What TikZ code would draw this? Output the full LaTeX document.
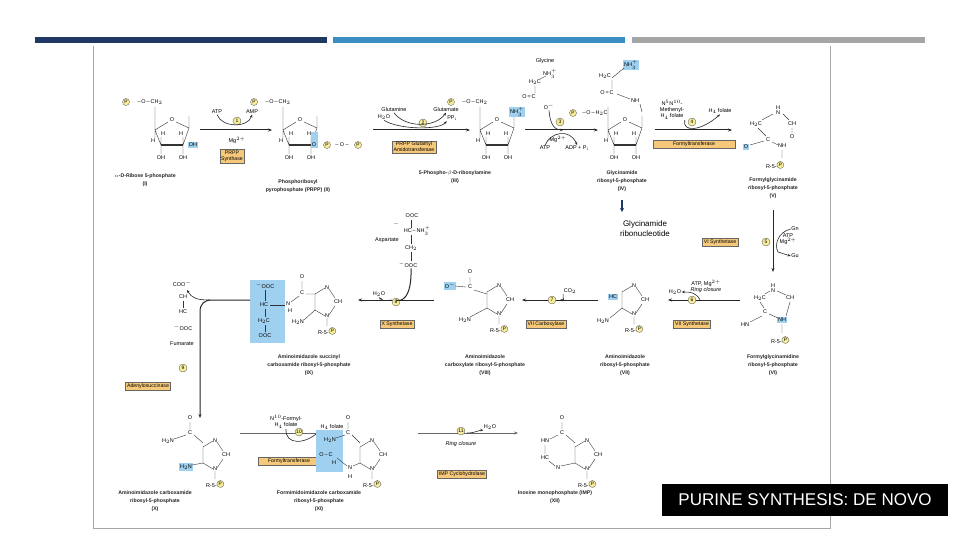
\documentclass[tikz,border=0pt]{standalone}
\usepackage{fontspec}
\setsansfont{Liberation Sans}
\usetikzlibrary{arrows.meta}
\definecolor{navy}{HTML}{1F3864}
\definecolor{steel}{HTML}{3B8DC4}
\definecolor{bargray}{HTML}{A6A6A6}
\definecolor{enzfill}{HTML}{F6C97A}
\definecolor{hl}{HTML}{9FD0F0}
\definecolor{pfill}{HTML}{F7EC9A}
\tikzset{
 t/.style={font=\sffamily\fontsize{5.5}{6}\selectfont,inner sep=0.5pt,align=center},
 lab/.style={font=\sffamily\bfseries\fontsize{5.2}{8}\selectfont,align=center,text=black!85},
 enz/.style={fill=enzfill,draw=black!60,line width=0.3pt,font=\sffamily\fontsize{5.2}{5.8}\selectfont,align=center,inner sep=1.5pt},
 stepc/.style={circle,fill=pfill,draw=black!70,line width=0.3pt,inner sep=0.5pt,minimum size=8pt,font=\sffamily\fontsize{5}{5}\selectfont},
 ph/.style={circle,fill=pfill,draw=black!70,line width=0.3pt,inner sep=0.3pt,minimum size=7pt,font=\sffamily\fontsize{4.8}{5}\selectfont},
 hlbox/.style={fill=hl,inner sep=1pt},
 rx/.style={-{Stealth[length=4pt,width=3pt]},line width=1pt,black!85},
 side/.style={-{Stealth[length=3pt,width=2.5pt]},line width=0.6pt,black!85},
 bond/.style={line width=0.4pt,black!80}
}
\newcommand\ribosering{%
 \node[t] at (0,0) {O};
 \draw[bond] (-4,2)--(-17,10) (4,2)--(17,8) (17,8)--(11,25) (-17,10)--(-11,25)
   (-11,25)--(-11,34) (11,25)--(11,34) (-17,10)--(-17,-13) (17,8)--(17,-4)
   (-11,25)--(-11,17) (11,25)--(11,17) (-17,10)--(-17,18);
 \draw[line width=1.2pt,black!80] (-11,25)--(11,25);
 \node[t] at (-11,38) {OH}; \node[t] at (11,38) {OH};
 \node[t] at (-9,14) {H}; \node[t] at (9,14) {H}; \node[t] at (-19,21) {H};
}
\newcommand\imid{%
 \draw[bond] (0,-8)--(0,8) (0,-8)--(10,-14) (0,8)--(10,14) (14,-13)--(20,-4) (14,13)--(20,4) (12,16)--(12,24);
 \node[t] at (12,-14) {N}; \node[t] at (23,0) {CH}; \node[t] at (12,14) {N};
 \node[t] at (12,29) {R-5-\tikz\node[ph]{P};};
}
\begin{document}
\begin{tikzpicture}[x=1pt,y=-1pt]
\useasboundingbox (0,0) rectangle (960,540);
\fill[white] (0,0) rectangle (960,540);
% top bars
\fill[navy] (35,37) rectangle (327,43);
\fill[steel] (333,37) rectangle (625,43);
\fill[bargray] (632,37) rectangle (925,43);
% frame
\draw[black!35,line width=1pt] (93,46) -- (93,528) -- (830,528) -- (830,46);
% ===== Row 1 =====
\begin{scope}[shift={(172,120)}]\ribosering\end{scope}
\node[ph] (p1) at (126,102) {P}; \node[t] at (150,102) {--\,O\,--\,CH$_2$};
\node[t,hlbox] at (193,145) {OH};
\node[lab] (cI) at (145,180) {$\alpha$-D-Ribose 5-phosphate\\(I)};

\begin{scope}[shift={(300,120)}]\ribosering\end{scope}
\node[ph] (p2) at (254,102) {P}; \node[t] at (278,102) {--\,O\,--\,CH$_2$};
\node[hlbox,minimum width=7pt,minimum height=16pt] at (314,140) {};
\node[t] at (314,145) {O};
\node[ph] (pa) at (327,145) {P}; \node[t] (pd) at (342,145) {-- O --};
\node[ph] (pb) at (358,145) {P};
\node[lab] (cII) at (298,186) {Phosphoribosyl\\pyrophosphate (PRPP) (II)};

\begin{scope}[shift={(497,120)}]\ribosering\end{scope}
\node[ph] (p3) at (451,102) {P}; \node[t] at (475,102) {--\,O\,--\,CH$_2$};
\node[t,hlbox] at (517,112) {NH$_3^+$};
\node[lab] (cIII) at (455,177) {5-Phospho-$\beta$-D-ribosylamine\\(III)};

\begin{scope}[shift={(625,120)}]\ribosering\end{scope}
\node[ph] (p4) at (573,113) {P}; \node[t] at (595,113) {--\,O\,--\,H$_2$C};
\node[t] at (605,76) {H$_2$C}; \node[t,hlbox] at (631,65) {NH$_3^+$};
\node[t] at (607,93) {O\,=\,C}; \node[t] at (635,101) {NH};
\draw[bond] (612,78)--(624,68) (612,80)--(612,89) (617,94)--(630,99) (640,104)--(642,112);
\node[lab] (cIV) at (622,181) {Glycinamide\\ribosyl-5-phosphate\\(IV)};

% V
\node[t] at (778,110) {H\\[-1pt]N}; \node[t] at (756,124) {H$_2$C}; \node[t] at (792,124) {CH};
\node[t] at (792,137) {O}; \node[t] at (768,140) {C}; \node[t,hlbox] at (746,147) {O};
\node[t] at (782,146) {NH}; \node[t] at (775,165) {R-5-\tikz\node[ph]{P};};
\draw[bond] (762,120)--(773,114) (783,114)--(789,120) (792,128)--(792,133) (758,128)--(766,136) (750,145)--(764,141) (772,142)--(778,145) (782,150)--(782,158);
\node[lab] (cV) at (773,188) {Formylglycinamide\\ribosyl-5-phosphate\\(V)};

% step 1
\coordinate (a1s) at (200,130); \coordinate (a1e) at (272,130);
\draw[rx] (a1s)--(a1e);
\node[stepc] (s1) at (237,121) {1};
\node[t] (atp1) at (217,112) {ATP}; \node[t] (amp1) at (252,112) {AMP};
\node[t] at (237,140) {Mg$^{2+}$};
\draw[side] (atp1.south) .. controls (222,128) and (248,128) .. (amp1.south);
\node[enz] (e1) at (232,156) {PRPP\\Synthase};
% step 2
\coordinate (a2s) at (373,130); \coordinate (a2e) at (470,130);
\draw[rx] (a2s)--(a2e);
\node[stepc] (s2) at (423,123) {2};
\node[t] (gln) at (394,110) {Glutamine}; \node[t] (h2o2) at (384,117) {H$_2$O};
\node[t] (glu) at (446,110) {Glutamate}; \node[t] (ppi) at (452,118) {PP$_\mathrm{i}$};
\draw[side] (gln.south) .. controls (405,128) and (435,128) .. (glu.south);
\draw[side] (h2o2.south) .. controls (400,130) and (440,130) .. (ppi.south west);
\node[enz] (e2) at (414,147) {PRPP Glutamyl\\Amidotransferase};
% step 3
\coordinate (a3s) at (525,130); \coordinate (a3e) at (598,130);
\draw[rx] (a3s)--(a3e);
\node[stepc] (s3) at (560,122) {3};
\node[t] at (545,61) {Glycine}; \node[t] at (550,74) {NH$_3^+$};
\node[t] (gly) at (535,82) {H$_2$C}; \node[t] at (529,97) {O\,=\,C}; \node[t] (om) at (549,107) {O$^-$};
\draw[bond] (540,79)--(546,76) (535,86)--(535,93);
\draw[side] (om.south) .. controls (550,125) and (555,130) .. (563,130);
\node[t] (atp3) at (545,148) {ATP}; \node[t] (adp3) at (577,148) {ADP + P$_\mathrm{i}$};
\node[t] at (558,139) {Mg$^{2+}$};
\draw[side] (atp3.north) .. controls (550,132) and (570,128) .. (adp3.north);
% step 4
\coordinate (a4s) at (655,130); \coordinate (a4e) at (732,130);
\draw[rx] (a4s)--(a4e);
\node[stepc] (s4) at (692,122) {4};
\node[t] (mth) at (672,110) {N$^5$N$^{10}$-\\Methenyl-\\H$_4$ folate};
\node[t] (h4f) at (720,111) {H$_4$ folate};
\draw[side] (mth.south east) .. controls (682,132) and (700,132) .. (h4f.south);
\node[enz,minimum width=82pt] (e4) at (694,144) {Formyltransferase};

% annotation
\draw[navy,-{Stealth[length=4pt,width=4pt]},line width=1.2pt] (622,200)--(622,212);
\node[font=\sffamily\fontsize{8}{10}\selectfont,align=center] (ann) at (645,229) {Glycinamide\\ribonucleotide};

% step 5
\coordinate (a5s) at (773,210); \coordinate (a5e) at (773,272);
\draw[rx] (a5s)--(a5e);
\node[stepc] (s5) at (766,242) {5};
\node[t] (gn) at (795,229) {Gn}; \node[t] at (788,239) {ATP\\Mg$^{2+}$};
\node[t] (gu) at (795,256) {Gu};
\draw[side] (gn.west) .. controls (778,232) and (774,245) .. (778,252) -- (gu.west);
\node[enz] (e5) at (720,242) {VI Synthetase};

% ===== Row 2 =====
% VI
\node[t] at (773,288) {H\\[-1pt]N}; \node[t] at (760,298) {H$_2$C}; \node[t] at (790,298) {CH};
\node[t] at (765,312) {C}; \node[t] at (745,325) {HN}; \node[t,hlbox] at (782,320) {NH};
\node[t] at (780,340) {R-5-\tikz\node[ph]{P};};
\draw[bond] (765,294)--(770,291) (777,291)--(786,295) (760,302)--(764,308) (762,316)--(750,322) (769,314)--(778,318) (782,324)--(782,333) (790,302)--(786,316);
\node[lab] (cVI) at (773,365) {Formylglycinamidine\\ribosyl-5-phosphate\\(VI)};

% step 6
\coordinate (a6s) at (740,300); \coordinate (a6e) at (668,300);
\draw[rx] (a6s)--(a6e);
\node[stepc] (s6) at (692,300) {6};
\node[t] at (706,286) {ATP, Mg$^{2+}$\\\textit{Ring closure}};
\node[t] (h2o6) at (675,292) {H$_2$O};
\draw[side] (700,300) .. controls (696,292) and (690,292) .. (h2o6.east);
\node[enz] (e6) at (692,324) {VII Synthetase};

% VII
\begin{scope}[shift={(622,300)}]\imid\end{scope}
\node[t,hlbox] at (613,297) {HC}; \node[t] at (603,321) {H$_2$N};
\draw[bond] (610,318)--(622,308);
\node[lab] (cVII) at (625,365) {Aminoimidazole\\ribosyl-5-phosphate\\(VII)};

% step 7
\coordinate (a7s) at (598,300); \coordinate (a7e) at (522,300);
\draw[rx] (a7s)--(a7e);
\node[stepc] (s7) at (552,300) {7};
\node[t] (co2) at (570,291) {CO$_2$};
\draw[side] (co2.south west) .. controls (562,300) and (566,300) .. (560,300);
\node[enz] (e7) at (546,324) {VII Carboxylase};

% VIII
\begin{scope}[shift={(487,300)}]\imid\end{scope}
\node[t] at (470,287) {C}; \node[t] at (470,272) {O}; \node[t,hlbox] at (450,286) {O$^-$};
\node[t] at (465,320) {H$_2$N};
\draw[bond] (470,277)--(470,283) (455,286)--(466,287) (474,290)--(487,294) (470,317)--(487,308);
\node[lab] (cVIII) at (485,365) {Aminoimidazole\\carboxylate ribosyl-5-phosphate\\(VIII)};

% step 8
\coordinate (a8s) at (434,300); \coordinate (a8e) at (358,300);
\draw[rx] (a8s)--(a8e);
\node[stepc] (s8) at (396,302) {8};
\node[t] at (412,216) {OOC}; \node[t] at (396,224) {$-$};
\node[t] at (417,231) {HC\,--\,NH$_3^+$};
\node[t] at (387,240) {Aspartate}; \node[t] at (411,248) {CH$_2$};
\node[t] (asp) at (408,265) {$^-$OOC};
\draw[bond] (411,220)--(411,228) (411,235)--(411,244) (411,252)--(411,261);
\draw[line width=1pt,black!85] (asp.south) ++(3,0) .. controls (412,300) and (400,302) .. (396,300);
\node[t] (h2o8) at (379,294) {H$_2$O};
\draw[side] (392,300) .. controls (388,300) and (384,302) .. (h2o8.south);
\node[enz] (e8) at (397,324) {X Synthetase};

% IX
\fill[hl] (250,280) rectangle (285,343);
\node[t] at (265,286) {$^-$OOC}; \node[t] at (264,305) {HC}; \node[t] at (264,321) {H$_2$C}; \node[t] at (265,336) {OOC};
\draw[bond] (265,290)--(265,301) (265,309)--(265,317) (265,325)--(265,332) (270,305)--(285,305);
\node[t] at (288,304) {N}; \node[t] at (290,311) {H};
\node[t] at (302,293) {C}; \node[t] at (302,277) {O};
\draw[bond] (302,281)--(302,289) (291,302)--(299,296) (306,294)--(315,294);
\begin{scope}[shift={(315,302)}]\imid\end{scope}
\node[t] at (298,322) {H$_2$N}; \draw[bond] (304,320)--(315,310);
\node[lab] (cIX) at (309,365) {Aminoimidazole succinyl\\carboxamide ribosyl-5-phosphate\\(IX)};

% step 9
\coordinate (a9s) at (250,300); \coordinate (a9e) at (200,418);
\draw[rx] (a9s) -- (212,300) .. controls (204,300) and (200,304) .. (200,312) -- (a9e);
\node[t] (fum) at (182,284) {COO$^-$};
\node[t] at (183,297) {CH}; \node[t] at (183,312) {HC}; \node[t] at (183,328) {$^-$OOC};
\node[t] at (182,344) {Fumarate};
\draw[bond] (183,301)--(183,308);
\draw[side] (210,300) .. controls (196,300) and (192,298) .. (187,290);
\node[stepc] (s9) at (183,368) {9};
\node[enz] (e9) at (148,386) {Adenylosuccinase};

% ===== Row 3 =====
% X
\node[t] at (190,433) {C}; \node[t] at (190,418) {O}; \node[t] at (168,441) {H$_2$N};
\draw[bond] (190,422)--(190,429) (174,439)--(186,435) (194,435)--(203,443);
\begin{scope}[shift={(203,455)}]\imid\end{scope}
\node[t,hlbox] at (186,467) {H$_2$N}; \draw[bond] (192,465)--(203,463);
\node[lab] (cX) at (155,501) {Aminoimidazole carboxamide\\ribosyl-5-phosphate\\(X)};

% step 10
\coordinate (a10s) at (240,433); \coordinate (a10e) at (330,433);
\draw[rx,black!60] (a10s)--(a10e);
\node[stepc] (s10) at (299,432) {10};
\node[t] (nf) at (286,422) {N$^{10}$-Formyl-\\H$_4$ folate};
\node[t] (h4f10) at (332,427) {H$_4$ folate};
\draw[side] (nf.south) .. controls (285,445) and (305,445) .. (h4f10.south west);
\node[enz,minimum width=62pt] (e10) at (289,461) {Formyltransferase};

% XI
\fill[hl] (316,430) rectangle (343,472);
\node[t] at (330,440) {H$_2$N}; \node[t] at (326,455) {O\,--\,C}; \node[t] at (334,463) {H};
\node[t] at (348,433) {C}; \node[t] at (348,418) {O}; \node[t] at (350,468) {N}; \node[t] at (350,477) {H};
\draw[bond] (348,422)--(348,429) (336,438)--(345,435) (352,435)--(360,443) (337,458)--(347,466) (353,466)--(360,463);
\begin{scope}[shift={(360,455)}]\imid\end{scope}
\node[lab] (cXI) at (319,501) {Formimidoimidazole carboxamide\\ribosyl-5-phosphate\\(XI)};

% step 11
\coordinate (a11s) at (418,433); \coordinate (a11e) at (518,433);
\draw[rx,black!60] (a11s)--(a11e);
\node[stepc] (s11) at (461,431) {11};
\node[t] (h2o11) at (490,427) {H$_2$O};
\draw[side] (467,433) .. controls (475,433) and (480,430) .. (h2o11.south west);
\node[t] at (461,444) {\itshape Ring closure};
\node[enz] (e11) at (462,474) {IMP Cyclohydrolase};

% XII
\node[t] at (562,433) {C}; \node[t] at (562,418) {O}; \node[t] at (545,441) {HN};
\node[t] at (545,458) {HC}; \node[t] at (558,468) {N};
\draw[bond] (562,422)--(562,429) (550,439)--(558,435) (566,435)--(575,443) (545,445)--(545,454) (549,461)--(555,466) (561,466)--(575,463);
\begin{scope}[shift={(575,455)}]\imid\end{scope}
\node[lab] (cXII) at (555,497) {Inosine monophosphate (IMP)\\(XII)};

% title
\node[fill=black,text=white,font=\sffamily\fontsize{17}{19}\selectfont,minimum width=286pt,minimum height=32pt,inner sep=0pt] (title) at (805,500) {PURINE SYNTHESIS: DE NOVO};
\end{tikzpicture}
\end{document}
